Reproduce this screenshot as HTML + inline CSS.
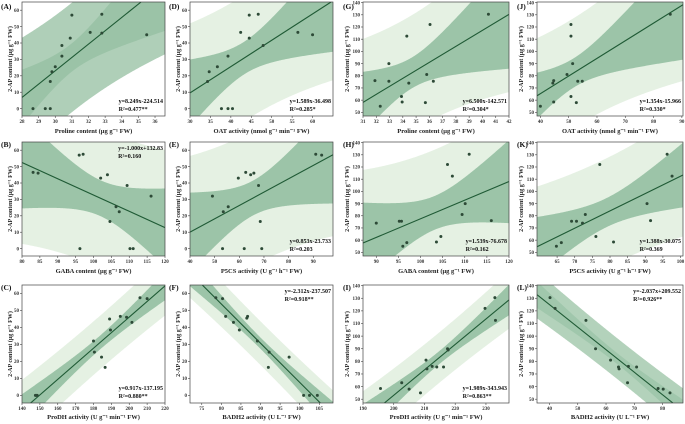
<!DOCTYPE html>
<html><head><meta charset="utf-8">
<style>
html,body{margin:0;padding:0;background:#fff;width:685px;height:424px;overflow:hidden;}
svg{display:block;font-family:"Liberation Serif",serif;font-weight:bold;}
</style></head>
<body>
<svg id="chart" width="685" height="424" viewBox="0 0 685 424" xmlns="http://www.w3.org/2000/svg"></svg>
<script>
// ---- data ----
const xA=[28.66,29.4,29.7,29.7,29.8,30,30.4,30.4,30.9,31,32.1,32.8,32.8,35.5];
const yA=[0,0,0,16.5,22.5,25.5,32,38.5,43,57,46.5,46,57.5,45];
const xB=[83.1,84.5,96,97.1,96.2,102,103.9,104.6,106.3,107.2,109.4,110.2,111.1,116.1];
const yB=[46.5,46,57,57.5,0,43,45,16.5,25.5,22.5,38.5,0,0,32];
const xC=[147.5,148,148.5,180,180.5,184.5,186.5,189,189.5,195,198.5,201.5,206,210];
const yC=[0,0,0,32,25.5,22.5,16.5,45,38.5,46.5,46,43,57.5,57];
const xD=[34.3,34.7,36.7,37.7,39.3,39.3,40.4,42.4,44.5,44.5,46.7,47.9,56.4,60];
const yD=[16.5,22.5,25.5,0,0,32,0,46.5,57,43,57.5,38.5,46.5,45];
const xE=[49.1,53.5,55.5,53.2,59.6,62.6,64.6,65.9,67.8,68.5,62,69.1,91,93.4];
const yE=[32,22.5,25.5,0,43,46.5,45,46,38.5,16.5,0,0,57.5,57];
const xF=[78.6,80.3,81.1,83.1,84.6,86.5,86.7,89.2,92.2,92,97.3,101,102.5,104.5];
const yF=[57.5,57,46.5,43,38.5,45.5,46.5,32,25.5,16.5,22.5,0,0,0];
const xG=[31.9,32.3,32.95,32.95,33.9,33.95,34.3,34.45,35.8,35.7,36.05,36.3,40.45];
const yG=[76,55,90,75.5,63,58.5,112.5,74,81,58,122,75.5,130.5];
const xH=[90,95.2,95.7,96,96.9,103.6,104.6,106.1,107.2,109.4,110.1,111,116];
const yH=[74,75.5,75.5,55,58,58.5,63,122,112.5,81,90,130.5,76];
const xI=[195.7,202.6,205,208.7,210.5,210.8,212.5,214,216.2,217.5,217.7,229.7,232.9,233.1];
const yI=[58.5,63,58,55,81,74,76,75.5,75.5,90,89,122,130.5,112.5];
const xJ=[40,44.4,44.7,44.7,49.4,50.8,50.8,50.8,51.4,52.7,53.2,54.8,85.9];
const yJ=[55,74,76,58.5,81,122,112.5,63,90,58,75.5,75.5,130.5];
const xK=[64.8,66.2,69.1,70.5,72.2,73,76,77.1,81,90.5,91.5,96.2,97.6];
const yK=[55,58,75.5,75.5,74,81,63,122,58.5,90,76,130.5,112.5];
const xL=[40.2,42,52.9,56.3,61.6,64.4,64.6,67.6,67.9,70.8,78.4,80.2,82.6];
const yL=[130.5,122,112.5,90,81,75.5,74,63,76,75.5,58.5,58,55];
// tick labels
const xTicksA=[28,29,30,31,32,33,34,35,36];
const xTicksB=[80,85,90,95,100,105,110,115,120];
const xTicksC=[140,150,160,170,180,190,200,210,220];
const xTicksD=[30,35,40,45,50,55,60];
const xTicksE=[40,50,60,70,80,90];
const xTicksF=[75,80,85,90,95,100,105];
const xTicksG=[31,32,33,34,35,36,37,38,39,40,41,42];
const xTicksH=[90,95,100,105,110,115,120];
const xTicksI=[190,200,210,220,230];
const xTicksJ=[40,50,60,70,80,90];
const xTicksK=[65,70,75,80,85,90,95,100];
const xTicksL=[40,50,60,70,80];
const yTicksLeft=[0,10,20,30,40,50,60];
const yTicksRight=[50,60,70,80,90,100,110,120,130,140];

// ---- layout ----
const cols=[[22,165],[190,333],[363,509],[537,683]];
const rows=[[2,116],[142,256],[285,403]];
const panels=[
 {id:'A',c:0,r:0,xs:xA,ys:yA,xr:[28,36.6],yr:[-4.5,65],xt:xTicksA,yt:yTicksLeft,xl:'Proline content (μg g⁻¹ FW)',eq:['y=8.249x-224.514','R²=0.477**'],top:false,pi:'#afcfb8',ci:'#9bc3a7'},
 {id:'B',c:0,r:1,xs:xB,ys:yB,xr:[80,120],yr:[-4.5,65],xt:xTicksB,yt:yTicksLeft,xl:'GABA content (μg g⁻¹ FW)',eq:['y=-1.000x+132.83','R²=0.160'],top:true,pi:'#e5f1e3',ci:'#9cc4a8'},
 {id:'C',c:0,r:2,xs:xC,ys:yC,xr:[140,220],yr:[-4.5,65],xt:xTicksC,yt:yTicksLeft,xl:'ProDH activity (U g⁻¹ min⁻¹ FW)',eq:['y=0.917x-137.195','R²=0.880**'],top:false,pi:'#e5f1e3',ci:'#9cc4a8'},
 {id:'D',c:1,r:0,xs:xD,ys:yD,xr:[30,65],yr:[-4.5,65],xt:xTicksD,yt:yTicksLeft,xl:'OAT activity (nmol g⁻¹ min⁻¹ FW)',eq:['y=1.589x-36.498','R²=0.285*'],top:false,pi:'#e5f1e3',ci:'#9cc4a8'},
 {id:'E',c:1,r:1,xs:xE,ys:yE,xr:[40,98],yr:[-4.5,65],xt:xTicksE,yt:yTicksLeft,xl:'P5CS activity (U g⁻¹ h⁻¹ FW)',eq:['y=0.853x-23.733','R²=0.203'],top:false,pi:'#e5f1e3',ci:'#9cc4a8'},
 {id:'F',c:1,r:2,xs:xF,ys:yF,xr:[72,108.5],yr:[-4.5,65],xt:xTicksF,yt:yTicksLeft,xl:'BADH2 activity (U L⁻¹ FW)',eq:['y=-2.312x-237.507','R²=0.918**'],top:true,pi:'#e5f1e3',ci:'#9cc4a8'},
 {id:'G',c:2,r:0,xs:xG,ys:yG,xr:[31,42],yr:[47,140.5],xt:xTicksG,yt:yTicksRight,xl:'Proline content (μg g⁻¹ FW)',eq:['y=6.500x-142.571','R²=0.304*'],top:false,pi:'#e5f1e3',ci:'#9cc4a8'},
 {id:'H',c:2,r:1,xs:xH,ys:yH,xr:[87,120],yr:[47,140.5],xt:xTicksH,yt:yTicksRight,xl:'GABA content (μg g⁻¹ FW)',eq:['y=1.539x-76.678','R²=0.162'],top:false,pi:'#e5f1e3',ci:'#9cc4a8'},
 {id:'I',c:2,r:2,xs:xI,ys:yI,xr:[190,237.5],yr:[47,140.5],xt:xTicksI,yt:yTicksRight,xl:'ProDH activity (U g⁻¹ min⁻¹ FW)',eq:['y=1.989x-343.943','R²=0.863**'],top:false,pi:'#e5f1e3',ci:'#9cc4a8'},
 {id:'J',c:3,r:0,xs:xJ,ys:yJ,xr:[38.8,90.4],yr:[47,140.5],xt:xTicksJ,yt:yTicksRight,xl:'OAT activity (nmol g⁻¹ min⁻¹ FW)',eq:['y=1.354x-15.966','R²=0.330*'],top:false,pi:'#e5f1e3',ci:'#9cc4a8'},
 {id:'K',c:3,r:1,xs:xK,ys:yK,xr:[59.3,100.7],yr:[47,140.5],xt:xTicksK,yt:yTicksRight,xl:'P5CS activity (U g⁻¹ h⁻¹ FW)',eq:['y=1.388x-30.075','R²=0.369'],top:false,pi:'#e5f1e3',ci:'#9cc4a8'},
 {id:'L',c:3,r:2,xs:xL,ys:yL,xr:[35.6,87.2],yr:[47,140.5],xt:xTicksL,yt:yTicksRight,xl:'BADH2 activity (U L⁻¹ FW)',eq:['y=-2.037x+209.552','R²=0.926**'],top:true,pi:'#b3d2bb',ci:'#a0c7ac'}
];

const NS='http://www.w3.org/2000/svg';
const svg=document.getElementById('chart');
function mk(tag,attrs,parent){const e=document.createElementNS(NS,tag);for(const k in attrs)e.setAttribute(k,attrs[k]);(parent||svg).appendChild(e);return e;}
const tTable={11:2.201,12:2.179,13:2.160};

panels.forEach(p=>{
  const L=cols[p.c][0],R=cols[p.c][1],T=rows[p.r][0],B=rows[p.r][1];
  const sx=v=>L+(v-p.xr[0])/(p.xr[1]-p.xr[0])*(R-L);
  const sy=v=>B-(v-p.yr[0])/(p.yr[1]-p.yr[0])*(B-T);
  const cl=v=>Math.max(T,Math.min(B,v));
  const g=mk('g',{});
  
  
  const clip=mk('clipPath',{id:'clip'+p.id},g);
  mk('rect',{x:L,y:T,width:R-L,height:B-T},clip);
  const n=p.xs.length;
  const mx=p.xs.reduce((a,b)=>a+b,0)/n, my=p.ys.reduce((a,b)=>a+b,0)/n;
  let sxx=0,sxy=0;for(let i=0;i<n;i++){sxx+=(p.xs[i]-mx)**2;sxy+=(p.xs[i]-mx)*(p.ys[i]-my);}
  const b=sxy/sxx,a=my-b*mx;
  let sse=0;for(let i=0;i<n;i++)sse+=(p.ys[i]-a-b*p.xs[i])**2;
  const s=Math.sqrt(sse/(n-2)), t=tTable[n-2]||2.2;
  const steps=200, xsS=[];
  for(let k=0;k<=steps;k++)xsS.push(p.xr[0]+(p.xr[1]-p.xr[0])*k/steps);
  function band(pred){
    const up=[],lo=[];
    xsS.forEach(x=>{const se=s*Math.sqrt((pred?1:0)+1/n+(x-mx)**2/sxx);const yh=a+b*x;up.push([sx(x),cl(sy(yh+t*se))]);lo.push([sx(x),cl(sy(yh-t*se))]);});
    return 'M'+up.map(q=>q[0].toFixed(2)+','+q[1].toFixed(2)).join('L')+'L'+lo.reverse().map(q=>q[0].toFixed(2)+','+q[1].toFixed(2)).join('L')+'Z';
  }
  const cg=mk('g',{'clip-path':'url(#clip'+p.id+')'},g);
  const pb=mk('path',{d:band(true),fill:p.pi},cg);
  
  
  const cb=mk('path',{d:band(false),fill:p.ci},cg);
  
  
  // regression line clipped analytically to the plot box
  let x1=p.xr[0],x2=p.xr[1];
  const yAt=x=>a+b*x;
  const xAtY=y=>(y-a)/b;
  if(b!==0){
    const xa=xAtY(p.yr[0]),xb=xAtY(p.yr[1]);
    const lo=Math.min(xa,xb),hi=Math.max(xa,xb);
    x1=Math.max(x1,lo);x2=Math.min(x2,hi);
  }
  const ln=mk('line',{x1:sx(x1),y1:sy(yAt(x1)),x2:sx(x2),y2:sy(yAt(x2)),stroke:'#1f5a35','stroke-width':1.1},cg);
  
  
  for(let i=0;i<n;i++){
    const c=mk('circle',{cx:sx(p.xs[i]),cy:sy(p.ys[i]),r:1.5,fill:'#2d4a37'},cg);
    
    
  }
  const fr=mk('rect',{x:L,y:T,width:R-L,height:B-T,fill:'none',stroke:'#444','stroke-width':0.7},g);
  
  
  p.xt.forEach(v=>{const X=sx(v);mk('line',{x1:X,y1:B,x2:X,y2:B+2,stroke:'#444','stroke-width':0.6},g);
    const tx=mk('text',{x:X,y:B+7,'font-size':5,'text-anchor':'middle',fill:'#333'},g);tx.textContent=v;
    
    });
  p.yt.forEach(v=>{const Y=sy(v);mk('line',{x1:L-2,y1:Y,x2:L,y2:Y,stroke:'#444','stroke-width':0.6},g);
    const ty=mk('text',{x:L-3,y:Y+1.7,'font-size':5,'text-anchor':'end',fill:'#333'},g);ty.textContent=v;
    
    });
  const xt=mk('text',{x:(L+R)/2,y:Math.min(B+17,419),'font-size':6.5,'text-anchor':'middle',fill:'#222'},g);xt.textContent=p.xl;
  
  
  const yx=L-(p.c>=2?14:10), ymid=(T+B)/2;
  const yt=mk('text',{x:yx,y:ymid,'font-size':6,'text-anchor':'middle',fill:'#222',transform:'rotate(-90 '+yx+' '+ymid+')'},g);yt.textContent='2-AP content (μg g⁻¹ FW)';
  
  
  const lb=mk('text',{x:L-(p.c>=2?20:21),y:T+(p.r===0?7:5),'font-size':7.5,fill:'#111'},g);lb.textContent='('+p.id+')';
  
  
  const ey=p.top?T+8:B-13;
  const eqs=[];
  p.eq.forEach((s2,k)=>{const e=mk('text',{x:R-2,y:ey+k*8,'font-size':6,'text-anchor':'end',fill:'#111'},g);e.textContent=s2;
    
    eqs.push(e);});
  const w=eqs[0].getComputedTextLength?eqs[0].getComputedTextLength():60;
  eqs[1].setAttribute('text-anchor','start');eqs[1].setAttribute('x',R-2-w);
});
</script>
</body></html>
